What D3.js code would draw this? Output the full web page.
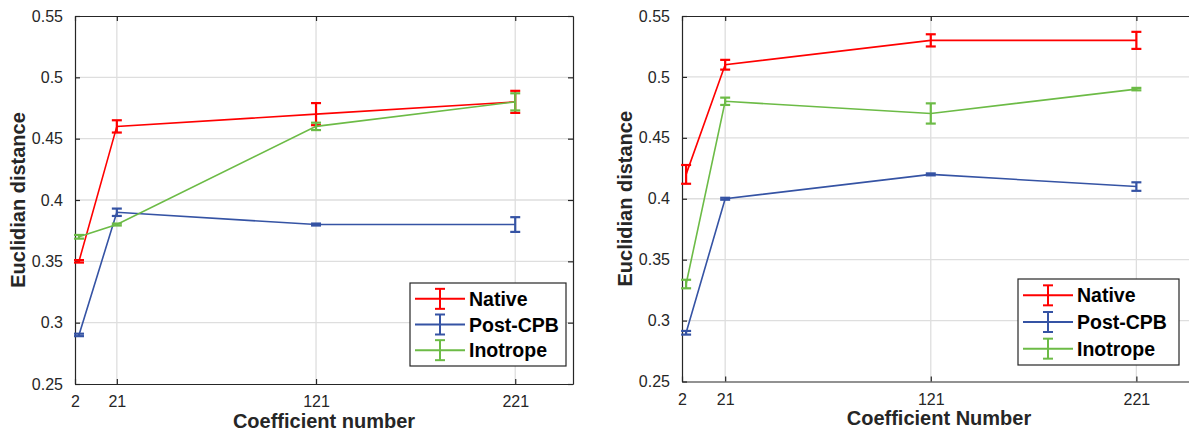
<!DOCTYPE html>
<html>
<head>
<meta charset="utf-8">
<script src="https://cdn.jsdelivr.net/npm/d3@7"></script>
<style>
  body { margin: 0; background: #fff; }
  svg text { font-family: "Liberation Sans", Arial, Helvetica, sans-serif; }
</style>
</head>
<body>
<div id="chart"></div>
<script>
// data
const coeffs = [2, 21, 121, 221];
const seriesNames = ["Native", "Post-CPB", "Inotrope"];
const seriesColors = ["#ff0000", "#3553a4", "#6cbb46"];

const xTickVals = [0, 21, 121, 221];
const xTickLabels = ["2", "21", "121", "221"];
const yTickVals = [0.25, 0.3, 0.35, 0.4, 0.45, 0.5, 0.55];
const yTickLabels = ["0.25", "0.3", "0.35", "0.4", "0.45", "0.5", "0.55"];

// left panel
const nativeA = [0.35, 0.46, 0.47, 0.48];
const nativeAErr = [0.001, 0.005, 0.009, 0.009];
const postA = [0.29, 0.39, 0.38, 0.38];
const postAErr = [0.001, 0.003, 0.0008, 0.006];
const inoA = [0.37, 0.38, 0.46, 0.48];
const inoAErr = [0.0015, 0.0008, 0.003, 0.007];

// right panel
const nativeB = [0.42, 0.51, 0.53, 0.53];
const nativeBErr = [0.0077, 0.004, 0.005, 0.007];
const postB = [0.29, 0.40, 0.42, 0.41];
const postBErr = [0.0015, 0.0008, 0.0008, 0.0035];
const inoB = [0.33, 0.48, 0.47, 0.49];
const inoBErr = [0.0035, 0.003, 0.0083, 0.001];

const width = 1189, height = 433;

const svg = d3.select("#chart")
    .append("svg")
    .attr("width", width)
    .attr("height", height);

const panels = [
  { left: 75, right: 573, top: 16, bottom: 384, xlabel: "Coefficient number",
    vals: [nativeA, postA, inoA], errs: [nativeAErr, postAErr, inoAErr],
    legend: { x: 410, y: 283, w: 156, h: 83 } },
  { left: 682, right: 1196, top: 16, bottom: 381.5, xlabel: "Coefficient Number",
    vals: [nativeB, postB, inoB], errs: [nativeBErr, postBErr, inoBErr],
    legend: { x: 1018, y: 279, w: 161, h: 86 } }
];

const axisColor = "#262626";
const gridColor = "#dedede";

panels.forEach(function(p) {
  const g = svg.append("g");

  const xScale = d3.scaleLinear().domain([0, 250]).range([p.left, p.right]);
  const yScale = d3.scaleLinear().domain([0.25, 0.55]).range([p.bottom, p.top]);

  // grid
  g.append("g").selectAll("line")
    .data(yTickVals.slice(1, -1))
    .enter().append("line")
      .attr("x1", p.left).attr("x2", p.right)
      .attr("y1", d => yScale(d)).attr("y2", d => yScale(d))
      .attr("stroke", gridColor).attr("stroke-width", 1.3);
  g.append("g").selectAll("line")
    .data(xTickVals.slice(1))
    .enter().append("line")
      .attr("x1", d => xScale(d)).attr("x2", d => xScale(d))
      .attr("y1", p.top).attr("y2", p.bottom)
      .attr("stroke", gridColor).attr("stroke-width", 1.3);

  // axes (ticks inward, on all four sides)
  const fmtX = d => xTickLabels[xTickVals.indexOf(d)];
  const fmtY = d => yTickLabels[yTickVals.indexOf(d)];

  const xAxis = g.append("g")
    .attr("transform", `translate(0,${p.bottom})`)
    .call(d3.axisBottom(xScale).tickValues(xTickVals).tickFormat(fmtX)
          .tickSizeInner(-5).tickSizeOuter(0).tickPadding(12));
  const xTop = g.append("g")
    .attr("transform", `translate(0,${p.top})`)
    .call(d3.axisTop(xScale).tickValues(xTickVals).tickFormat("")
          .tickSizeInner(-5).tickSizeOuter(0));
  const yAxis = g.append("g")
    .attr("transform", `translate(${p.left},0)`)
    .call(d3.axisLeft(yScale).tickValues(yTickVals).tickFormat(fmtY)
          .tickSizeInner(-5).tickSizeOuter(0).tickPadding(12));
  const yRight = g.append("g")
    .attr("transform", `translate(${p.right},0)`)
    .call(d3.axisRight(yScale).tickValues(yTickVals).tickFormat("")
          .tickSizeInner(-5).tickSizeOuter(0));

  [xAxis, xTop, yAxis, yRight].forEach(function(a) {
    a.select(".domain").attr("stroke", axisColor).attr("stroke-width", 1.2);
    a.selectAll(".tick line").attr("stroke", axisColor).attr("stroke-width", 1.2);
    a.selectAll(".tick text")
      .attr("fill", axisColor)
      .style("font-size", "16px");
  });

  // series
  p.vals.forEach(function(vals, si) {
    const color = seriesColors[si];
    const pts = coeffs.map((c, i) => ({ x: c, y: vals[i], e: p.errs[si][i] }));
    const line = d3.line().x(d => xScale(d.x)).y(d => yScale(d.y));

    g.append("path")
      .datum(pts)
      .attr("d", line)
      .attr("fill", "none")
      .attr("stroke", color)
      .attr("stroke-width", 1.6);

    const eb = g.append("g").selectAll("g")
      .data(pts).enter().append("g")
      .attr("stroke", color).attr("stroke-width", 2.2);
    eb.append("line")
      .attr("x1", d => xScale(d.x)).attr("x2", d => xScale(d.x))
      .attr("y1", d => yScale(d.y - d.e)).attr("y2", d => yScale(d.y + d.e));
    eb.append("line")
      .attr("x1", d => xScale(d.x) - 5).attr("x2", d => xScale(d.x) + 5)
      .attr("y1", d => yScale(d.y - d.e)).attr("y2", d => yScale(d.y - d.e));
    eb.append("line")
      .attr("x1", d => xScale(d.x) - 5).attr("x2", d => xScale(d.x) + 5)
      .attr("y1", d => yScale(d.y + d.e)).attr("y2", d => yScale(d.y + d.e));
  });

  // axis labels
  g.append("text")
    .attr("x", (p.left + p.right) / 2)
    .attr("y", p.bottom + 43.5)
    .attr("text-anchor", "middle")
    .attr("fill", axisColor)
    .style("font-size", "20px").style("font-weight", "bold")
    .text(p.xlabel);

  g.append("text")
    .attr("transform", "rotate(-90)")
    .attr("x", -(p.top + p.bottom) / 2)
    .attr("y", p.left - 50)
    .attr("text-anchor", "middle")
    .attr("fill", axisColor)
    .style("font-size", "20px").style("font-weight", "bold")
    .text("Euclidian distance");

  // legend
  const L = p.legend;
  const lg = g.append("g");
  lg.append("rect")
    .attr("x", L.x).attr("y", L.y).attr("width", L.w).attr("height", L.h)
    .attr("fill", "#fff").attr("stroke", axisColor).attr("stroke-width", 1.2);
  const rowH = (L.h - 6) / 3;
  seriesNames.forEach(function(name, i) {
    const cy = L.y + 3 + rowH * (i + 0.5);
    const row = lg.append("g").attr("stroke", seriesColors[i]).attr("stroke-width", 2);
    row.append("line").attr("x1", L.x + 5).attr("x2", L.x + 55).attr("y1", cy).attr("y2", cy);
    row.append("line").attr("x1", L.x + 30).attr("x2", L.x + 30).attr("y1", cy - 10).attr("y2", cy + 10);
    row.append("line").attr("x1", L.x + 25).attr("x2", L.x + 35).attr("y1", cy - 10).attr("y2", cy - 10);
    row.append("line").attr("x1", L.x + 25).attr("x2", L.x + 35).attr("y1", cy + 10).attr("y2", cy + 10);
    lg.append("text")
      .attr("x", L.x + 59).attr("y", cy)
      .attr("dy", "0.36em")
      .attr("fill", "#000")
      .style("font-size", "19.5px").style("font-weight", "bold")
      .text(name);
  });
});
</script>
</body>
</html>
